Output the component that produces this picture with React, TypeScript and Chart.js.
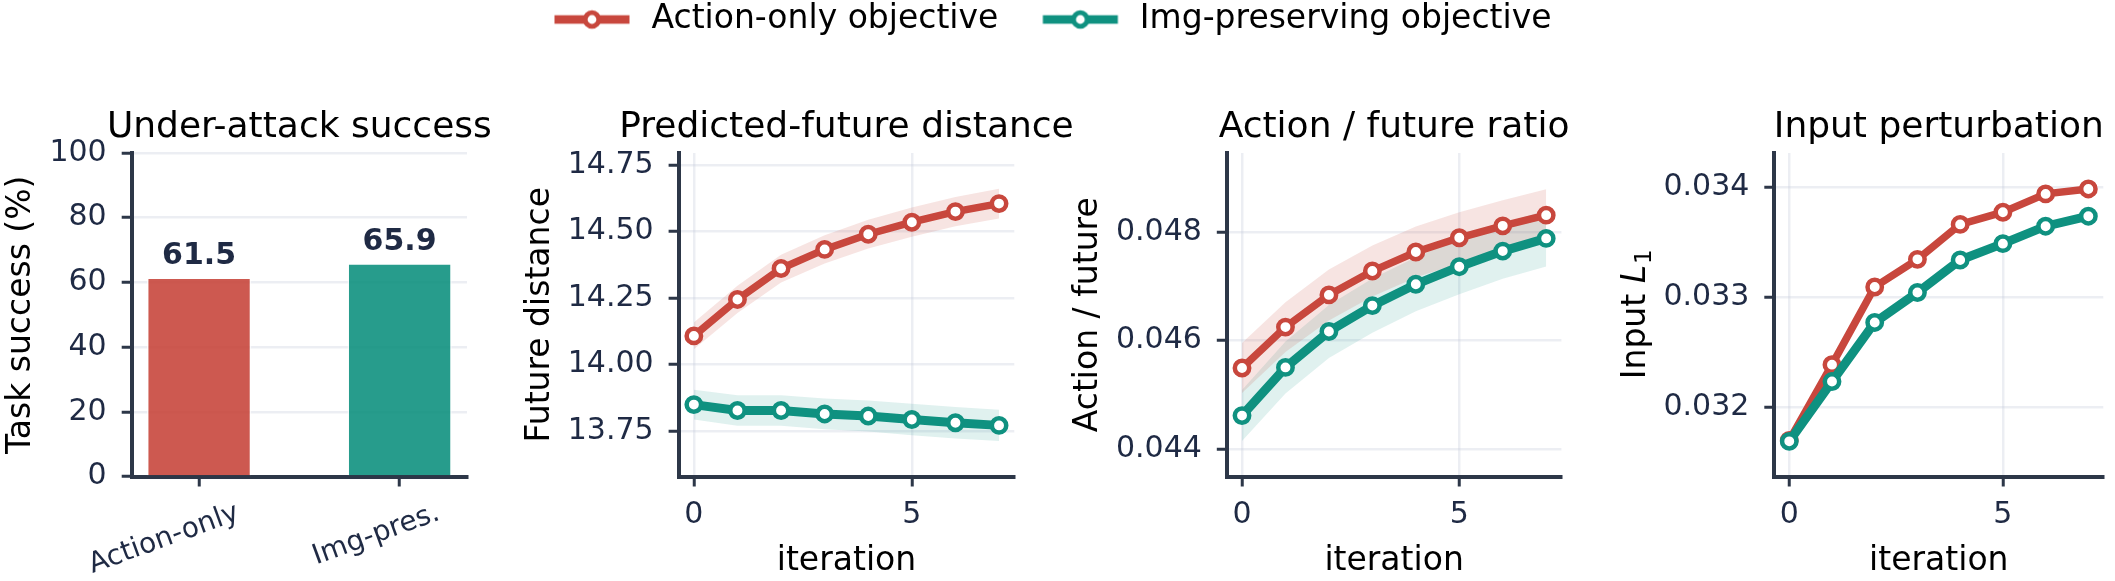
import React, { useEffect, useRef } from 'react';
import { Chart, registerables } from 'chart.js';

Chart.register(...registerables);

const FONT = "'DejaVu Sans', 'Noto Sans', sans-serif";
Chart.defaults.font.family = FONT;

// ---------------- data ----------------
const legendLabels = ['Action-only objective', 'Img-preserving objective'];
const panelTitles = ['Under-attack success', 'Predicted-future distance', 'Action / future ratio', 'Input perturbation'];

const barCategories = ['Action-only', 'Img-pres.'];
const barValues = [61.5, 65.9];

const iterations = [0, 1, 2, 3, 4, 5, 6, 7];
const iterationTicks = [0, 5];

const futureDistActionOnly = [14.108, 14.245, 14.361, 14.433, 14.49, 14.535, 14.575, 14.605];
const futureDistActionOnlySd = [0.05, 0.051, 0.052, 0.053, 0.054, 0.055, 0.055, 0.056];
const futureDistImgPres = [13.85, 13.828, 13.828, 13.815, 13.807, 13.794, 13.782, 13.772];
const futureDistImgPresSd = [0.056, 0.057, 0.057, 0.058, 0.058, 0.059, 0.059, 0.059];

const ratioActionOnly = [0.045492, 0.046247, 0.046841, 0.047282, 0.047632, 0.047895, 0.048116, 0.048313];
const ratioActionOnlySd = [0.00046, 0.00046, 0.00047, 0.00047, 0.00047, 0.00047, 0.00047, 0.00048];
const ratioImgPres = [0.044614, 0.045503, 0.046166, 0.046644, 0.047038, 0.047362, 0.04765, 0.047884];
const ratioImgPresSd = [0.00047, 0.00048, 0.00049, 0.0005, 0.0005, 0.00051, 0.00051, 0.00052];

const perturbActionOnly = [0.0317, 0.032389, 0.033096, 0.033347, 0.033665, 0.033776, 0.033943, 0.033988];
const perturbImgPres = [0.031691, 0.032235, 0.032773, 0.033045, 0.033341, 0.03349, 0.033649, 0.03374];

const successTicks = [0, 20, 40, 60, 80, 100];
const futureTicks = [13.75, 14.0, 14.25, 14.5, 14.75];
const ratioTicks = [0.044, 0.046, 0.048];
const perturbTicks = [0.032, 0.033, 0.034];

// ---------------- style / layout ----------------
const RED = '#C8473D';
const TEAL = '#0F9180';
const RED_BAR = 'rgba(200,71,61,0.9)';
const TEAL_BAR = 'rgba(15,145,128,0.9)';
const RED_BAND = 'rgba(200,71,61,0.15)';
const TEAL_BAND = 'rgba(15,145,128,0.13)';
const NAVY = '#1F2A44';
const SPINE = '#2D3748';
const GRID = 'rgba(200,205,222,0.35)';

const W = 2115;
const H = 581;
const PANEL_TOP = 90;
const PLOT_TOP = 153;
const PLOT_BOTTOM = 476.5;
const TITLE_BASELINE = 137.3;
const CANVAS_H = H - PANEL_TOP;
const X_HEIGHT = H - PLOT_BOTTOM;

const GEOM = [
  { left: 2, width: 518, yWidth: 129.7, plotRight: 467 },
  { left: 521, width: 559, yWidth: 157.6, plotRight: 1014.3 },
  { left: 1069, width: 531, yWidth: 157.8, plotRight: 1561.4 },
  { left: 1614, width: 501, yWidth: 160.3, plotRight: 2109.3 },
];

const gridOpts = (onArea: boolean) => ({
  display: true,
  drawOnChartArea: onArea,
  drawTicks: true,
  color: GRID,
  lineWidth: 2.5,
  tickColor: SPINE,
  tickWidth: 3,
  tickLength: 10,
  offset: false,
});
const borderOpts = { display: true, color: SPINE, width: 4 };

function yScale(min: number, max: number, ticks: number[], fmt: (v: number) => string, width: number, title: string | null, z = 0) {
  return {
    type: 'linear',
    min,
    max,
    z,
    afterBuildTicks: (s: any) => { s.ticks = ticks.map((v) => ({ value: v })); },
    afterFit: (s: any) => { s.width = width; },
    ticks: { color: NAVY, font: { family: FONT, size: 30 }, padding: 15, callback: (v: any) => fmt(Number(v)) },
    grid: gridOpts(true),
    border: borderOpts,
    title: title
      ? { display: true, text: title, color: '#000', font: { family: FONT, size: 33 }, padding: 0 }
      : { display: false },
  };
}

function xIterScale() {
  return {
    type: 'linear',
    min: -0.35,
    max: 7.35,
    offset: false,
    afterBuildTicks: (s: any) => { s.ticks = iterationTicks.map((v) => ({ value: v })); },
    afterFit: (s: any) => { s.height = X_HEIGHT; },
    ticks: { color: NAVY, font: { family: FONT, size: 30 }, padding: 11, minRotation: 0, maxRotation: 0, autoSkip: false, callback: (v: any) => String(v) },
    grid: gridOpts(true),
    border: borderOpts,
    title: { display: true, text: 'iteration', color: '#000', font: { family: FONT, size: 33 }, padding: 0 },
  };
}

const titlePlugin = (text: string) => ({
  id: 'panelTitle',
  afterDraw(chart: any) {
    const { ctx, chartArea } = chart;
    ctx.save();
    ctx.font = `36px ${FONT}`;
    ctx.fillStyle = '#000';
    ctx.textAlign = 'center';
    ctx.textBaseline = 'alphabetic';
    ctx.fillText(text, (chartArea.left + chartArea.right) / 2, TITLE_BASELINE - PANEL_TOP);
    ctx.restore();
  },
});

const barValuePlugin = {
  id: 'barValues',
  afterDraw(chart: any) {
    const { ctx } = chart;
    const meta = chart.getDatasetMeta(0);
    ctx.save();
    ctx.font = `bold 30px ${FONT}`;
    ctx.fillStyle = NAVY;
    ctx.textAlign = 'center';
    ctx.textBaseline = 'alphabetic';
    meta.data.forEach((bar: any, i: number) => {
      ctx.fillText(barValues[i].toFixed(1), bar.x, bar.y - 13.5);
    });
    ctx.restore();
  },
};

const inputL1Plugin = {
  id: 'inputL1',
  afterDraw(chart: any) {
    const { ctx, chartArea } = chart;
    const cx = 1633.6 - GEOM[3].left;
    const cy = (chartArea.top + chartArea.bottom) / 2;
    ctx.save();
    ctx.translate(cx, cy);
    ctx.rotate(-Math.PI / 2);
    ctx.fillStyle = '#000';
    ctx.textAlign = 'left';
    ctx.textBaseline = 'alphabetic';
    const f1 = `33px ${FONT}`;
    const f2 = `italic 33px ${FONT}`;
    const f3 = `23px ${FONT}`;
    ctx.font = f1; const w1 = ctx.measureText('Input ').width;
    ctx.font = f2; const w2 = ctx.measureText('L').width;
    ctx.font = f3; const w3 = ctx.measureText('1').width;
    let x = -(w1 + w2 + w3) / 2;
    const base = 0.346 * 33;
    ctx.font = f1; ctx.fillText('Input ', x, base); x += w1;
    ctx.font = f2; ctx.fillText('L', x, base); x += w2;
    ctx.font = f3; ctx.fillText('1', x + 1, base + 6);
    ctx.restore();
  },
};

function lineDs(label: string, ys: number[], color: string, width: number, order: number) {
  return {
    label,
    data: iterations.map((x, i) => ({ x, y: ys[i] })),
    borderColor: color,
    borderWidth: width,
    pointRadius: 7.2,
    pointBackgroundColor: '#ffffff',
    pointBorderColor: color,
    pointBorderWidth: 4.5,
    fill: false,
    tension: 0,
    order,
  };
}

function bandDs(ys: number[], sd: number[], sign: number, fill: any, color: string) {
  return {
    label: '',
    data: iterations.map((x, i) => ({ x, y: ys[i] + sign * sd[i] })),
    borderColor: 'rgba(0,0,0,0)',
    borderWidth: 0,
    pointRadius: 0,
    backgroundColor: color,
    fill,
    tension: 0,
    order: 5,
  };
}

function makeMarker(color: string) {
  const c = document.createElement('canvas');
  c.width = 78;
  c.height = 24;
  const g = c.getContext('2d')!;
  g.strokeStyle = color;
  g.lineWidth = 8.5;
  g.beginPath();
  g.moveTo(1.5, 12);
  g.lineTo(76.5, 12);
  g.stroke();
  g.beginPath();
  g.arc(39, 12, 6.8, 0, Math.PI * 2);
  g.fillStyle = '#ffffff';
  g.fill();
  g.lineWidth = 4.8;
  g.stroke();
  return c;
}

const baseOpts = (i: number) => ({
  responsive: false,
  animation: false as const,
  devicePixelRatio: 1,
  events: [] as any[],
  layout: { padding: { top: PLOT_TOP - PANEL_TOP, right: GEOM[i].left + GEOM[i].width - GEOM[i].plotRight, bottom: 0, left: 0 } },
  plugins: { legend: { display: false }, tooltip: { enabled: false } },
});

export default function App() {
  const legendRef = useRef<HTMLCanvasElement | null>(null);
  const panelRefs = useRef<(HTMLCanvasElement | null)[]>([]);

  useEffect(() => {
    const charts: Chart[] = [];

    // legend
    const markers = [makeMarker(RED), makeMarker(TEAL)];
    charts.push(new Chart(legendRef.current!, {
      type: 'line',
      data: { datasets: legendLabels.map((l, i) => ({ label: l, data: [], borderColor: i === 0 ? RED : TEAL })) },
      options: {
        responsive: false,
        animation: false,
        devicePixelRatio: 1,
        events: [],
        layout: { padding: 0 },
        scales: { x: { display: false }, y: { display: false } },
        plugins: {
          tooltip: { enabled: false },
          legend: {
            display: true,
            position: 'top',
            align: 'start',
            labels: {
              usePointStyle: true,
              pointStyleWidth: 86,
              padding: 39,
              color: '#000',
              font: { family: FONT, size: 33 },
              generateLabels: () => legendLabels.map((text, i) => ({
                text,
                fillStyle: i === 0 ? RED : TEAL,
                strokeStyle: i === 0 ? RED : TEAL,
                lineWidth: 0,
                pointStyle: markers[i],
                hidden: false,
                datasetIndex: i,
                fontColor: '#000',
              })),
            },
          },
        },
      } as any,
    }));

    // panel 1: bars
    charts.push(new Chart(panelRefs.current[0]!, {
      type: 'bar',
      data: {
        datasets: [{
          data: barCategories.map((_, i) => ({ x: i, y: barValues[i] })),
          backgroundColor: [RED_BAR, TEAL_BAR],
          borderColor: 'rgba(255,255,255,0.7)',
          borderWidth: 1.5,
          barPercentage: 0.52,
          categoryPercentage: 1,
        }],
      },
      options: {
        ...baseOpts(0),
        scales: {
          x: {
            type: 'linear',
            min: -0.336,
            max: 1.336,
            offset: false,
            afterBuildTicks: (s: any) => { s.ticks = barCategories.map((_, i) => ({ value: i })); },
            afterFit: (s: any) => { s.height = X_HEIGHT; },
            ticks: {
              color: NAVY,
              font: { family: FONT, size: 28 },
              padding: 10,
              minRotation: 20,
              maxRotation: 20,
              autoSkip: false,
              labelOffset: 39,
              callback: (v: any) => barCategories[Math.round(Number(v))] ?? '',
            },
            grid: gridOpts(false),
            border: borderOpts,
          },
          y: yScale(0, 100, successTicks, (v) => String(v), GEOM[0].yWidth, 'Task success (%)', 1),
        },
      } as any,
      plugins: [titlePlugin(panelTitles[0]), barValuePlugin],
    }));

    // panel 2: future distance
    charts.push(new Chart(panelRefs.current[1]!, {
      type: 'line',
      data: {
        datasets: [
          lineDs(legendLabels[1], futureDistImgPres, TEAL, 9, 0),
          lineDs(legendLabels[0], futureDistActionOnly, RED, 7.5, 1),
          bandDs(futureDistActionOnly, futureDistActionOnlySd, 1, 3, RED_BAND),
          bandDs(futureDistActionOnly, futureDistActionOnlySd, -1, false, RED_BAND),
          bandDs(futureDistImgPres, futureDistImgPresSd, 1, 5, TEAL_BAND),
          bandDs(futureDistImgPres, futureDistImgPresSd, -1, false, TEAL_BAND),
        ],
      },
      options: {
        ...baseOpts(1),
        scales: {
          x: xIterScale(),
          y: yScale(13.58, 14.795, futureTicks, (v) => v.toFixed(2), GEOM[1].yWidth, 'Future distance'),
        },
      } as any,
      plugins: [titlePlugin(panelTitles[1])],
    }));

    // panel 3: ratio
    charts.push(new Chart(panelRefs.current[2]!, {
      type: 'line',
      data: {
        datasets: [
          lineDs(legendLabels[1], ratioImgPres, TEAL, 9, 0),
          lineDs(legendLabels[0], ratioActionOnly, RED, 7.5, 1),
          bandDs(ratioActionOnly, ratioActionOnlySd, 1, 3, RED_BAND),
          bandDs(ratioActionOnly, ratioActionOnlySd, -1, false, RED_BAND),
          bandDs(ratioImgPres, ratioImgPresSd, 1, 5, TEAL_BAND),
          bandDs(ratioImgPres, ratioImgPresSd, -1, false, TEAL_BAND),
        ],
      },
      options: {
        ...baseOpts(2),
        scales: {
          x: xIterScale(),
          y: yScale(0.04349, 0.04946, ratioTicks, (v) => v.toFixed(3), GEOM[2].yWidth, 'Action / future'),
        },
      } as any,
      plugins: [titlePlugin(panelTitles[2])],
    }));

    // panel 4: perturbation
    charts.push(new Chart(panelRefs.current[3]!, {
      type: 'line',
      data: {
        datasets: [
          lineDs(legendLabels[1], perturbImgPres, TEAL, 9, 0),
          lineDs(legendLabels[0], perturbActionOnly, RED, 7.5, 1),
        ],
      },
      options: {
        ...baseOpts(3),
        scales: {
          x: xIterScale(),
          y: yScale(0.031371, 0.034315, perturbTicks, (v) => v.toFixed(3), GEOM[3].yWidth, null),
        },
      } as any,
      plugins: [titlePlugin(panelTitles[3]), inputL1Plugin],
    }));

    return () => { charts.forEach((c) => c.destroy()); };
  }, []);

  return (
    <div style={{ position: 'absolute', left: 0, top: 0, width: W, height: H, background: '#ffffff', overflow: 'hidden' }}>
      <canvas
        ref={legendRef}
        width={1200}
        height={160}
        style={{ position: 'absolute', left: 510, top: -36, width: 1200, height: 160 }}
      />
      {GEOM.map((g, i) => (
        <canvas
          key={i}
          ref={(el) => { panelRefs.current[i] = el; }}
          width={g.width}
          height={CANVAS_H}
          style={{ position: 'absolute', left: g.left, top: PANEL_TOP, width: g.width, height: CANVAS_H }}
        />
      ))}
    </div>
  );
}
